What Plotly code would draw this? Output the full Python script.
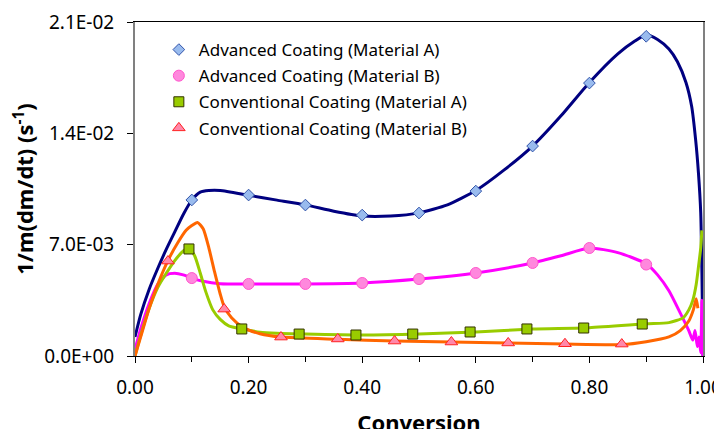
import plotly.graph_objects as go

# ---- Data ----
names = ["Advanced Coating (Material A)", "Advanced Coating (Material B)",
         "Conventional Coating (Material A)", "Conventional Coating (Material B)"]

adv_a_x = [0, 0.01, 0.025, 0.04, 0.055, 0.07, 0.085, 0.1, 0.115, 0.13, 0.15, 0.2, 0.25, 0.3, 0.35,
           0.4, 0.45, 0.5, 0.55, 0.6, 0.65, 0.7, 0.75, 0.8, 0.85, 0.88, 0.9, 0.92, 0.94, 0.955,
           0.97, 0.98, 0.987, 0.992, 0.996, 0.998, 1.0]
adv_a_y = [0.0012, 0.0026, 0.0042, 0.0055, 0.0067, 0.0078, 0.0089, 0.0098, 0.0103, 0.0104, 0.0104,
           0.0101, 0.0098, 0.0095, 0.0091, 0.0088, 0.0088, 0.0090, 0.0095, 0.0104, 0.0117, 0.0132,
           0.0151, 0.0172, 0.0190, 0.0198, 0.0202, 0.0199, 0.0193, 0.0185, 0.0172, 0.0157, 0.0136,
           0.0115, 0.0090, 0.0055, 0.0]
adv_a_mx = [0.1, 0.2, 0.3, 0.4, 0.5, 0.6, 0.7, 0.8, 0.9]
adv_a_my = [0.00981, 0.01012, 0.00949, 0.00886, 0.00899, 0.01037, 0.0132, 0.01716, 0.0201]

adv_b_x = [0, 0.01, 0.025, 0.04, 0.055, 0.07, 0.085, 0.1, 0.12, 0.15, 0.2, 0.3, 0.4, 0.5, 0.6,
           0.7, 0.75, 0.8, 0.85, 0.9, 0.92, 0.94, 0.96, 0.975, 0.982, 0.986, 0.99, 0.993, 0.996,
           0.998, 1.0]
adv_b_y = [0.0004, 0.0017, 0.0033, 0.0045, 0.0051, 0.0052, 0.0051, 0.0049, 0.0047, 0.00455, 0.00453,
           0.00453, 0.00459, 0.00484, 0.00522, 0.00585, 0.0063, 0.00679, 0.0065, 0.0058, 0.0051,
           0.0041, 0.0027, 0.0016, 0.0010, 0.0016, 0.0006, 0.0012, 0.0002, 0.0035, 0.0]
adv_b_mx = [0.1, 0.2, 0.3, 0.4, 0.5, 0.6, 0.7, 0.8, 0.9]
adv_b_my = [0.0049, 0.00453, 0.00453, 0.00459, 0.00484, 0.00522, 0.00585, 0.00679, 0.00575]

conv_a_x = [0, 0.01, 0.025, 0.04, 0.055, 0.07, 0.085, 0.095, 0.105, 0.115, 0.125, 0.137, 0.15,
            0.165, 0.19, 0.22, 0.25, 0.3, 0.4, 0.5, 0.6, 0.7, 0.8, 0.9, 0.94, 0.965, 0.975, 0.982,
            0.988, 0.992, 0.996, 0.998]
conv_a_y = [0.0, 0.0013, 0.0030, 0.0043, 0.0052, 0.0060, 0.0066, 0.0068, 0.0063, 0.0052, 0.0040,
            0.0029, 0.0023, 0.0019, 0.0017, 0.0015, 0.00143, 0.00138, 0.00132, 0.00138, 0.00151,
            0.0017, 0.00178, 0.00202, 0.0021, 0.0024, 0.0029, 0.0035, 0.0045, 0.0056, 0.0068, 0.0079]
conv_a_mx = [0.095, 0.188, 0.289, 0.389, 0.489, 0.590, 0.690, 0.790, 0.893]
conv_a_my = [0.00673, 0.0017, 0.00138, 0.00132, 0.00138, 0.00151, 0.0017, 0.00176, 0.00201]

conv_b_x = [0, 0.01, 0.025, 0.04, 0.058, 0.075, 0.09, 0.1, 0.11, 0.12, 0.13, 0.14, 0.15, 0.157,
            0.17, 0.19, 0.22, 0.257, 0.357, 0.457, 0.557, 0.657, 0.757, 0.857, 0.9, 0.94, 0.96,
            0.975, 0.983, 0.988, 0.991]
conv_b_y = [0, 0.0012, 0.0030, 0.0045, 0.0060, 0.0071, 0.0079, 0.0082, 0.0084, 0.0080, 0.0068,
            0.0053, 0.0039, 0.0031, 0.0024, 0.0018, 0.0014, 0.00119, 0.00105, 0.00094, 0.00088,
            0.00082, 0.00075, 0.00072, 0.0009, 0.0012, 0.0016, 0.0022, 0.0029, 0.0036, 0.0030]
conv_b_mx = [0.058, 0.157, 0.257, 0.357, 0.457, 0.557, 0.657, 0.757, 0.857]
conv_b_my = [0.00597, 0.00295, 0.00119, 0.00107, 0.00094, 0.00088, 0.00082, 0.00077, 0.00075]

y_tickvals = [0, 0.007, 0.014, 0.021]
y_ticktext = ["0.0E+00", "7.0E-03", "1.4E-02", "2.1E-02"]

# ---- Styles ----
line_colors = ["#000080", "#FF00FF", "#99CC00", "#FF6600"]
marker_styles = [
    dict(symbol="diamond", size=9, color="#99BBEE", line=dict(color="#3355AA", width=1)),
    dict(symbol="circle", size=11, color="#FF88DD", line=dict(color="#FF55CC", width=1)),
    dict(symbol="square", size=10, color="#99CC00", line=dict(color="#333300", width=1)),
    dict(symbol="triangle-up", size=11, color="#FF88AA", line=dict(color="#FF2222", width=1)),
]

curves = [(adv_a_x, adv_a_y), (adv_b_x, adv_b_y), (conv_a_x, conv_a_y), (conv_b_x, conv_b_y)]
marks = [(adv_a_mx, adv_a_my), (adv_b_mx, adv_b_my), (conv_a_mx, conv_a_my), (conv_b_mx, conv_b_my)]

fig = go.Figure()
for i, (cx, cy) in enumerate(curves):
    fig.add_trace(go.Scatter(x=cx, y=cy, mode="lines", showlegend=False,
                             line=dict(color=line_colors[i], width=3, shape="spline", smoothing=0.6),
                             legendgroup=f"g{i}", hoverinfo="skip"))
for i, (mx, my) in enumerate(marks):
    fig.add_trace(go.Scatter(x=mx, y=my, mode="markers", name=names[i],
                             marker=marker_styles[i], legendgroup=f"g{i}"))

font_family = "Noto Sans"
# page body has an 8px margin, so the figure's margins are shifted by 8px
fig.update_layout(
    width=722, height=429,
    margin=dict(l=127, r=27, t=14, b=81, autoexpand=False),
    paper_bgcolor="white", plot_bgcolor="white",
    font=dict(family=font_family, size=17, color="black"),
    legend=dict(x=0.042, y=0.97, xanchor="left", yanchor="top",
                bgcolor="rgba(0,0,0,0)", font=dict(size=17), tracegroupgap=1,
                itemwidth=30),
    showlegend=True,
)
fig.update_xaxes(range=[0, 1], dtick=0.2, tick0=0, tickformat=".2f",
                 ticks="outside", ticklen=6, tickcolor="black", tickfont=dict(size=19),
                 ticklabelstandoff=8,
                 minor=dict(dtick=0.1, ticks="outside", ticklen=5, tickcolor="black"),
                 showline=True, linecolor="black", linewidth=1, mirror=True,
                 showgrid=False, zeroline=False, automargin=False,
                 title=dict(text="<b>Conversion</b>", font=dict(size=22), standoff=17))
fig.update_yaxes(range=[0, 0.021], tickvals=y_tickvals, ticktext=y_ticktext,
                 ticks="outside", ticklen=6, tickcolor="black", tickfont=dict(size=19),
                 ticklabelstandoff=9,
                 showline=True, linecolor="#808080", linewidth=2, mirror=True,
                 showgrid=False, zeroline=False, automargin=False,
                 title=dict(text="<b>1/m(dm/dt) (s<sup>-1</sup>)</b>", font=dict(size=22), standoff=6))

fig.write_html("out.html")
